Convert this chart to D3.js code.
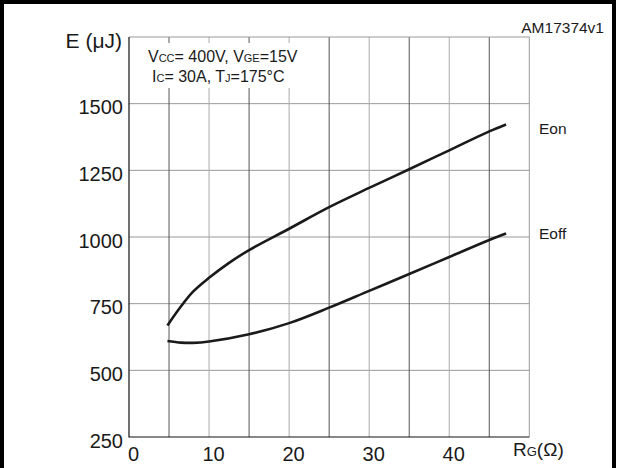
<!DOCTYPE html>
<html>
<head>
<meta charset="utf-8">
<script src="https://cdn.jsdelivr.net/npm/d3@7"></script>
<style>
  body { margin: 0; background: #fff; }
  text { font-family: "Liberation Sans", Arial, sans-serif; fill: #1a1a1a; }
</style>
</head>
<body>
<div id="chart"></div>
<script>
'use strict';

// values
var yTicks = [250, 500, 750, 1000, 1250, 1500];
var xTicks = [0, 10, 20, 30, 40];
var gridX = [5, 10, 15, 20, 25, 30, 35, 40, 45];

var eonRg = [4.8, 6.5, 8, 10, 12.5, 15, 20, 25, 30, 35, 40, 45, 47.1];
var eonE  = [668, 740, 795, 847, 903, 951, 1031, 1112, 1184, 1254, 1325, 1396, 1422];

var eoffRg = [4.8, 6.5, 8, 10, 15, 20, 25, 30, 35, 40, 45, 47.1];
var eoffE  = [610, 604, 603, 608, 635, 677, 735, 798, 861, 925, 989, 1013];

var width = 618;
var height = 468;

var svg = d3.select('#chart')
    .append('svg')
    .attr('width', width)
    .attr('height', height);

// outer frame, bottom edge runs past the picture
svg.append('rect')
    .attr('x', 2).attr('y', 2)
    .attr('width', 612).attr('height', 520)
    .attr('fill', 'none')
    .attr('stroke', '#000')
    .attr('stroke-width', 4);

var x = d3.scaleLinear().domain([0, 50]).range([129, 529.3]);
var y = d3.scaleLinear().domain([250, 1750]).range([437, 37]);

// grid
svg.append('g')
    .selectAll('line')
    .data(yTicks.slice(1))
    .enter()
    .append('line')
    .attr('x1', x(0)).attr('x2', x(50))
    .attr('y1', function(d) { return y(d); })
    .attr('y2', function(d) { return y(d); })
    .attr('stroke', '#999')
    .attr('stroke-width', 1);

svg.append('g')
    .selectAll('line')
    .data(gridX)
    .enter()
    .append('line')
    .attr('x1', function(d) { return x(d); })
    .attr('x2', function(d) { return x(d); })
    .attr('y1', y(250)).attr('y2', y(1750))
    .attr('stroke', function(d) { return d % 10 === 0 ? '#aaa' : '#555'; })
    .attr('stroke-width', 1);

// top and right edges of plot are grey, left and bottom are black
svg.append('path')
    .attr('d', 'M' + x(0) + ',' + y(1750) + 'H' + x(50) + 'V' + y(250))
    .attr('fill', 'none')
    .attr('stroke', '#999');

svg.append('path')
    .attr('d', 'M' + x(0) + ',' + y(1750) + 'V' + y(250) + 'H' + x(50))
    .attr('fill', 'none')
    .attr('stroke', '#111')
    .attr('stroke-width', 1.2);

// axes, labels only
var yAxis = svg.append('g')
    .attr('transform', 'translate(' + x(0) + ',0)')
    .call(d3.axisLeft(y).tickValues(yTicks).tickFormat(d3.format('d')).tickSize(0).tickPadding(6));
yAxis.select('.domain').remove();
yAxis.selectAll('text')
    .attr('dy', '0.5em')
    .style('font-size', '20px')
    .style('font-family', '"Liberation Sans", Arial, sans-serif')
    .attr('fill', '#1a1a1a');

var xAxis = svg.append('g')
    .attr('transform', 'translate(0,' + y(250) + ')')
    .call(d3.axisBottom(x).tickValues(xTicks).tickFormat(d3.format('d')).tickSize(0).tickPadding(10));
xAxis.select('.domain').remove();
xAxis.selectAll('text')
    .attr('dx', 4)
    .style('font-size', '20px')
    .style('font-family', '"Liberation Sans", Arial, sans-serif')
    .attr('fill', '#1a1a1a');

// axis titles
svg.append('text')
    .attr('x', 122).attr('y', 48)
    .attr('text-anchor', 'end')
    .style('font-size', '21px')
    .text('E (\u03bcJ)');

var rg = svg.append('text')
    .attr('x', 513).attr('y', 456)
    .style('font-size', '19px');
rg.append('tspan').text('R');
rg.append('tspan').style('font-size', '13px').text('G');
rg.append('tspan').text('(\u03a9)');

svg.append('text')
    .attr('x', 604).attr('y', 33)
    .attr('text-anchor', 'end')
    .style('font-size', '15.5px')
    .text('AM17374v1');

// conditions box
svg.append('rect')
    .attr('x', x(0) + 1).attr('y', 43)
    .attr('width', 180).attr('height', 45)
    .attr('fill', '#fff');

var cond1 = svg.append('text')
    .attr('x', 148).attr('y', 62)
    .style('font-size', '16px');
cond1.append('tspan').text('V');
cond1.append('tspan').style('font-size', '11px').text('CC');
cond1.append('tspan').text('= 400V, V');
cond1.append('tspan').style('font-size', '11px').text('GE');
cond1.append('tspan').text('=15V');

var cond2 = svg.append('text')
    .attr('x', 152).attr('y', 81.5)
    .style('font-size', '16px');
cond2.append('tspan').text('I');
cond2.append('tspan').style('font-size', '11px').text('C');
cond2.append('tspan').text('= 30A, T');
cond2.append('tspan').style('font-size', '11px').text('J');
cond2.append('tspan').text('=175\u00b0C');

// curves
var line = d3.line()
    .x(function(d) { return x(d[0]); })
    .y(function(d) { return y(d[1]); })
    .curve(d3.curveCatmullRom.alpha(0.5));

var series = [
    { name: 'Eon', pts: d3.zip(eonRg, eonE), labelY: 134 },
    { name: 'Eoff', pts: d3.zip(eoffRg, eoffE), labelY: 239 }
];

series.forEach(function(s) {
    svg.append('path')
        .attr('d', line(s.pts))
        .attr('fill', 'none')
        .attr('stroke', '#1a1a1a')
        .attr('stroke-width', 2.6);

    svg.append('text')
        .attr('x', 539).attr('y', s.labelY)
        .style('font-size', '15.5px')
        .text(s.name);
});
</script>
</body>
</html>
